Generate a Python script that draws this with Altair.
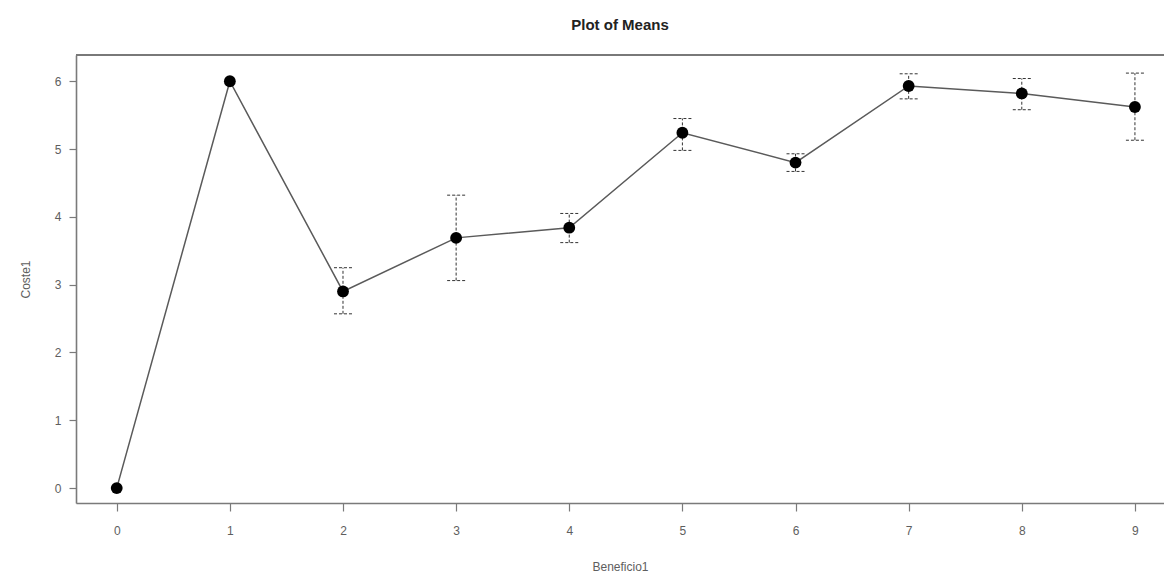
import altair as alt
import pandas as pd

# Group means of Coste1 by Beneficio1, with confidence limits
beneficio = [0, 1, 2, 3, 4, 5, 6, 7, 8, 9]
coste_mean = [0.0, 6.0, 2.90, 3.69, 3.84, 5.24, 4.80, 5.93, 5.82, 5.62]
ci_lower = [None, None, 2.57, 3.06, 3.62, 4.98, 4.67, 5.74, 5.58, 5.13]
ci_upper = [None, None, 3.25, 4.32, 4.05, 5.45, 4.93, 6.11, 6.04, 6.12]
y_ticks = [0, 1, 2, 3, 4, 5, 6]

df = pd.DataFrame({
    "Beneficio1": beneficio,
    "Coste1": coste_mean,
    "lower": ci_lower,
    "upper": ci_upper,
})
bars = df.dropna(subset=["lower", "upper"])

W, H = 1088, 448
FONT = "Liberation Sans"
AXIS_GREY = "#7a7a7a"
LABEL_GREY = "#5e5e5e"

x_scale = alt.Scale(domain=[-0.36, 9.257], nice=False, zero=False)
y_scale = alt.Scale(domain=[-0.22, 6.387], nice=False, zero=False)

x_axis = alt.Axis(
    values=beneficio, format="d", grid=False, tickSize=8, tickColor=AXIS_GREY,
    tickWidth=1.2, domainColor=AXIS_GREY, domainWidth=1.6, labelPadding=14,
    labelFontSize=12, labelColor=LABEL_GREY, labelFont=FONT, titleFont=FONT,
    titleFontSize=12, titleFontWeight="normal", titleColor=LABEL_GREY,
    titlePadding=25,
)
y_axis = alt.Axis(
    values=y_ticks, format="d", grid=False, tickSize=7, tickColor=AXIS_GREY,
    tickWidth=1.2, domainColor=AXIS_GREY, domainWidth=1.6, labelPadding=8,
    labelFontSize=12, labelColor=LABEL_GREY, labelFont=FONT, titleFont=FONT,
    titleFontSize=12, titleFontWeight="normal", titleColor=LABEL_GREY,
    titlePadding=22,
)

x_enc = alt.X("Beneficio1:Q", scale=x_scale, axis=x_axis, title="Beneficio1")
y_enc = alt.Y("Coste1:Q", scale=y_scale, axis=y_axis, title="Coste1")

line = alt.Chart(df).mark_line(color="#5a5a5a", strokeWidth=1.5).encode(x=x_enc, y=y_enc)

err = alt.Chart(bars).mark_rule(color="#333333", strokeWidth=1, strokeDash=[3, 2]).encode(
    x=alt.X("Beneficio1:Q", scale=x_scale),
    y=alt.Y("lower:Q", scale=y_scale),
    y2="upper:Q",
)

cap_hi = alt.Chart(bars).mark_rule(
    color="#333333", strokeWidth=1, strokeDash=[3, 2], xOffset=-9, x2Offset=9
).encode(
    x=alt.X("Beneficio1:Q", scale=x_scale),
    x2="Beneficio1:Q",
    y=alt.Y("upper:Q", scale=y_scale),
)

cap_lo = alt.Chart(bars).mark_rule(
    color="#333333", strokeWidth=1, strokeDash=[3, 2], xOffset=-9, x2Offset=9
).encode(
    x=alt.X("Beneficio1:Q", scale=x_scale),
    x2="Beneficio1:Q",
    y=alt.Y("lower:Q", scale=y_scale),
)

points = alt.Chart(df).mark_point(
    filled=True, shape="circle", size=140, color="#000000", opacity=1
).encode(x=x_enc, y=y_enc)

# top edge of the plot frame
top_edge = alt.Chart(df).mark_rule(color=AXIS_GREY, strokeWidth=1.6).encode(
    x=alt.value(0), x2=alt.value(W), y=alt.value(0)
)

chart = (
    alt.layer(top_edge, line, err, cap_hi, cap_lo, points)
    .properties(
        width=W,
        height=H,
        title=alt.TitleParams(
            "Plot of Means", fontSize=15, font=FONT, fontWeight="bold",
            color="#222222", anchor="middle", offset=21,
        ),
        autosize=alt.AutoSizeParams(type="none"),
        padding={"left": 76, "top": 55, "right": 0, "bottom": 69},
    )
    .configure_view(stroke=None)
    .configure(background="white")
)

chart.save("out.html", embed_options={"renderer": "svg", "actions": False})
